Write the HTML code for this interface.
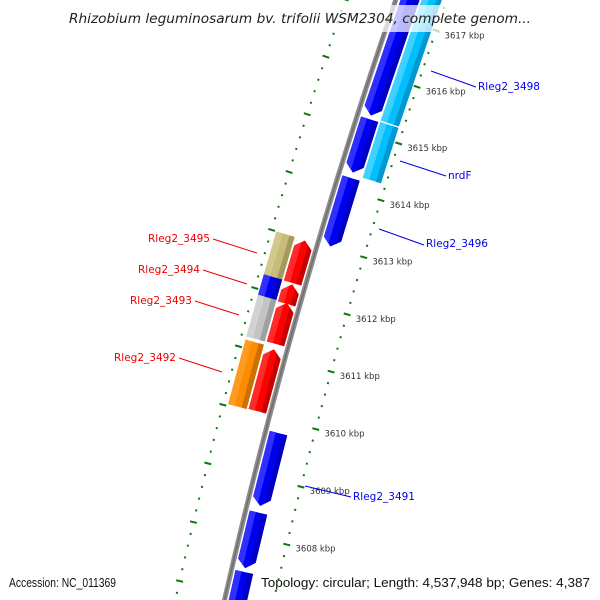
<!DOCTYPE html>
<html><head><meta charset="utf-8"><style>
html,body{margin:0;padding:0;background:#fff;width:600px;height:600px;overflow:hidden;}
svg{display:block;overflow:hidden;}
text{font-family:"DejaVu Sans","Liberation Sans",sans-serif;}
</style></head><body>
<svg id="map" width="600" height="600" viewBox="0 0 600 600" xmlns="http://www.w3.org/2000/svg">
<g id="ticks"></g>
<g id="feats"></g>
<g id="labels"></g>
<rect x="64" y="5" width="472" height="27" fill="#fff" opacity="0.72"/>
<text x="300" y="23" text-anchor="middle" font-size="13" font-style="italic" fill="#222" textLength="462" lengthAdjust="spacingAndGlyphs">Rhizobium leguminosarum bv. trifolii WSM2304, complete genom...</text>
<text x="9" y="587" font-size="12.5" fill="#111" style="font-family:'Liberation Sans',sans-serif" textLength="107" lengthAdjust="spacingAndGlyphs">Accession: NC_011369</text>
<text x="590" y="587" font-size="12.5" fill="#111" text-anchor="end" style="font-family:'Liberation Sans',sans-serif" textLength="329" lengthAdjust="spacingAndGlyphs">Topology: circular; Length: 4,537,948 bp; Genes: 4,387</text>
</svg>
<script>
// data (kbp)
const majorTicks = [3606,3607,3608,3609,3610,3611,3612,3613,3614,3615,3616,3617,3618];
const tickLabels = ["3606 kbp","3607 kbp","3608 kbp","3609 kbp","3610 kbp","3611 kbp","3612 kbp","3613 kbp","3614 kbp","3615 kbp","3616 kbp","3617 kbp","3618 kbp"];
const featStart = [3615.29,3614.29,3613.00,3608.51,3607.44,3606.00,3615.26,3614.26,3612.24,3611.88,3611.19,3610.03,3612.23,3611.89,3611.18,3610.02];
const featEnd   = [3618.20,3615.25,3614.22,3609.79,3608.42,3607.40,3618.20,3615.26,3613.00,3612.24,3611.92,3611.12,3613.01,3612.27,3611.92,3611.15];
const featSlot  = [-1,-1,-1,-1,-1,-1,-2,-2,1,1,1,1,2,2,2,2];
const featArrow = ["down","down","down","down","down","down","none","none","up","up","up","up","none","none","none","none"];
const featColor = ["blue","blue","blue","blue","blue","blue","cyan","cyan","red","red","red","red","olive","blue","gray","orange"];

const CX=5812, CY=1870, R=5730;
const PAL={blue:["#0000f0","#2f2fff","#0000c0"],cyan:["#00bfff","#40d0ff","#0098d0"],red:["#ff0000","#ff2a2a","#c80000"],
 olive:["#c8bc78","#d2c88c","#a49a5c"],gray:["#c4c4c4","#d2d2d2","#a0a0a0"],orange:["#ff8c00","#ff9c20","#cc7000"]};
const SLOT={"1":[4,22],"2":[24,43],"-1":[-4,-22],"-2":[-24,-43]};
const NS="http://www.w3.org/2000/svg";
function ang(k){return (-161.11+(k-3617)*0.6)*Math.PI/180;}
function pt(k,off){const a=ang(k),r=R+off;return [CX+r*Math.cos(a),CY+r*Math.sin(a)];}
function P(list){return list.map(p=>p[0].toFixed(2)+","+p[1].toFixed(2)).join(" ");}

const tickG=document.getElementById('ticks');
(function(){
 const pts=[];for(let k=3605.5;k<=3619.5;k+=0.25)pts.push(pt(k,0));
 const pl=document.createElementNS(NS,'polyline');
 pl.setAttribute('points',P(pts));pl.setAttribute('fill','none');pl.setAttribute('stroke','#8e8e8e');pl.setAttribute('stroke-width','5');
 
 
 tickG.appendChild(pl);
 const pl2=document.createElementNS(NS,'polyline');
 pl2.setAttribute('points',P(pts));pl2.setAttribute('fill','none');pl2.setAttribute('stroke','#6e6e6e');pl2.setAttribute('stroke-width','1.5');
 
 
 tickG.appendChild(pl2);
})();
for(let i=0;i<=70;i++){
 const k=3605+i*0.2;const major=Math.abs(k-Math.round(k))<1e-6;
 [48,-48].forEach(side=>{
  const h=major?3.5:1;
  const a=pt(k,side-h),b=pt(k,side+h);
  const ln=document.createElementNS(NS,'line');
  ln.setAttribute('x1',a[0]);ln.setAttribute('y1',a[1]);ln.setAttribute('x2',b[0]);ln.setAttribute('y2',b[1]);
  ln.setAttribute('stroke','#0a7a0a');ln.setAttribute('stroke-width','2');
  
  
  tickG.appendChild(ln);
 });
}
majorTicks.forEach((k,i)=>{
 const p=pt(k,-57);
 if(p[1]>575||p[1]<0)return;
 const t=document.createElementNS(NS,'text');
 t.setAttribute('x',p[0]);t.setAttribute('y',p[1]+5);t.setAttribute('font-size','8.5');t.setAttribute('fill','#333');
 t.textContent=tickLabels[i];
 
 
 tickG.appendChild(t);
});
const fG=document.getElementById('feats');
function shape(k1,k2,r1,r2,arrow,frac0,frac1){
 const w=r2-r1, ra=r1+w*frac0, rb=r1+w*frac1, rm=r1+w*0.5;
 const D=0.13;
 const pts=[];
 function tipK(r,end,dir){const t=1-Math.abs(r-rm)/(Math.abs(w)/2);return end+dir*D*t;}
 const fr=[frac0,0.5,frac1].filter(f=>f>=frac0&&f<=frac1);
 if(arrow==="up"){
  const kb=k2-D;
  pts.push(pt(k1,ra),pt(kb,ra));
  fr.forEach(f=>{const r=r1+w*f;pts.push(pt(tipK(r,kb,1),r));});
  pts.push(pt(kb,rb),pt(k1,rb));
 } else if(arrow==="down"){
  const kb=k1+D;
  pts.push(pt(k2,ra),pt(kb,ra));
  fr.forEach(f=>{const r=r1+w*f;pts.push(pt(tipK(r,kb,-1),r));});
  pts.push(pt(kb,rb),pt(k2,rb));
 } else {
  pts.push(pt(k1,ra),pt(k2,ra),pt(k2,rb),pt(k1,rb));
 }
 return P(pts);
}
featStart.forEach((s,i)=>{
 const e=featEnd[i], sl=SLOT[String(featSlot[i])], c=PAL[featColor[i]];
 const g=document.createElementNS(NS,'g');
 
 
 // outward (screen-left) side lighter, inward side darker
 const leftSide=featSlot[i]>0;
 const parts=leftSide?[[0,1,c[0]],[0.65,1,c[1]],[0,0.28,c[2]]]:[[0,1,c[0]],[0,0.35,c[1]],[0.72,1,c[2]]];
 parts.forEach(pp=>{
  const poly=document.createElementNS(NS,'polygon');
  poly.setAttribute('points',shape(s+0.012,e-0.012,sl[0],sl[1],featArrow[i],pp[0],pp[1]));
  poly.setAttribute('fill',pp[2]);
  
  
  g.appendChild(poly);
 });
 fG.appendChild(g);
});
const labNames=["Rleg2_3498","nrdF","Rleg2_3496","Rleg2_3491","Rleg2_3495","Rleg2_3494","Rleg2_3493","Rleg2_3492"];
const labX=[478,448,426,353,210,200,192,176];
const labY=[90,179,247,500,242,273,304,361];
const lnA=[[431,71],[400,161],[379,229],[305,486],[257,253],[247,284],[239,315],[222,372]];
const lnB=[[476,87],[446,176],[424,245],[351,497],[213,239],[203,270],[195,301],[179,358]];
const lG=document.getElementById('labels');
labNames.forEach((n,i)=>{
 const right=i<4, col=right?"#0000ee":"#ee0000";
 const ln=document.createElementNS(NS,'line');
 ln.setAttribute('x1',lnA[i][0]);ln.setAttribute('y1',lnA[i][1]);ln.setAttribute('x2',lnB[i][0]);ln.setAttribute('y2',lnB[i][1]);
 ln.setAttribute('stroke',col);ln.setAttribute('stroke-width','1');
 
 
 lG.appendChild(ln);
 const t=document.createElementNS(NS,'text');
 t.setAttribute('x',labX[i]);t.setAttribute('y',labY[i]);t.setAttribute('font-size','10.5');t.setAttribute('fill',col);
 if(!right)t.setAttribute('text-anchor','end');
 t.textContent=n;
 
 
 lG.appendChild(t);
});
</script>
</body></html>
